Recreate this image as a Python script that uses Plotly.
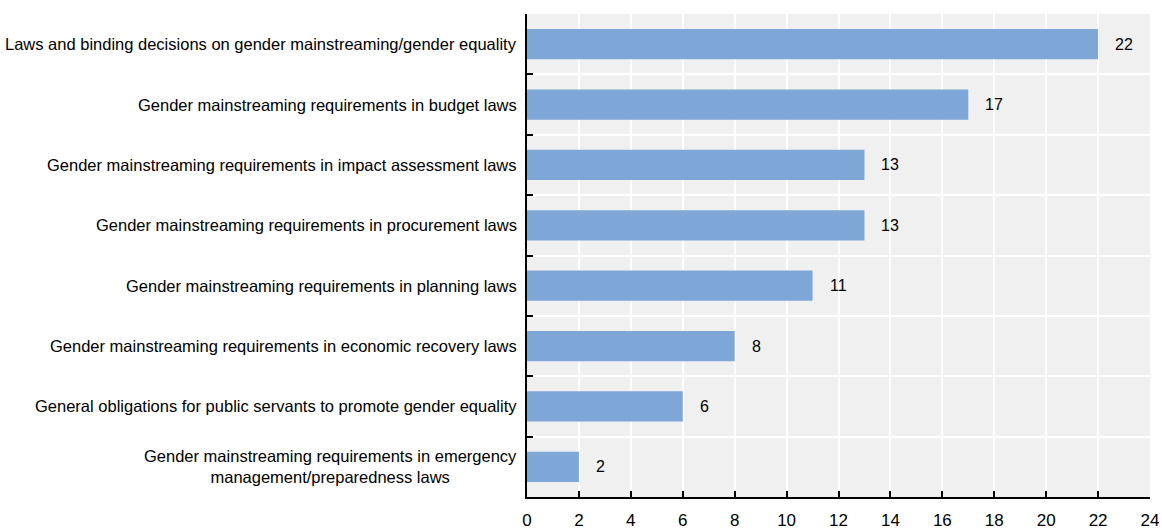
import plotly.graph_objects as go

categories = [
    "Laws and binding decisions on gender mainstreaming/gender equality",
    "Gender mainstreaming requirements in budget laws",
    "Gender mainstreaming requirements in impact assessment laws",
    "Gender mainstreaming requirements in procurement laws",
    "Gender mainstreaming requirements in planning laws",
    "Gender mainstreaming requirements in economic recovery laws",
    "General obligations for public servants to promote gender equality",
    "Gender mainstreaming requirements in emergency<br>management/preparedness laws",
]
values = [22, 17, 13, 13, 11, 8, 6, 2]
x_ticks = list(range(0, 25, 2))

FONT = "Liberation Sans, Arial, sans-serif"
BAR = "#7ea7d8"

fig = go.Figure()
fig.add_trace(go.Bar(
    x=values,
    y=categories,
    orientation="h",
    marker=dict(color=BAR, line=dict(width=0)),
    width=0.5,
    hoverinfo="x+y",
))

annotations = []
for c, v in zip(categories, values):
    annotations.append(dict(
        x=v, y=c, xref="x", yref="y", text=str(v), showarrow=False,
        xanchor="left", yanchor="middle", xshift=15,
        font=dict(family=FONT, size=16, color="#000000"),
    ))
    annotations.append(dict(
        x=0, y=c, xref="paper", yref="y", text=c, showarrow=False,
        xanchor="right", yanchor="middle", xshift=-8, align="center",
        font=dict(family=FONT, size=16.5, color="#000000"),
    ))

fig.update_layout(
    width=1162, height=530,
    margin=dict(l=527, r=12, t=14, b=33, autoexpand=False),
    paper_bgcolor="white",
    plot_bgcolor="#f0f0f0",
    showlegend=False,
    bargap=0.5,
    font=dict(family=FONT, size=16, color="#000000"),
    annotations=annotations,
    xaxis=dict(
        range=[0, 24],
        automargin=False,
        tickvals=x_ticks,
        ticktext=[str(t) for t in x_ticks],
        showgrid=True, gridcolor="white", gridwidth=2,
        zeroline=False,
        showline=True, linecolor="black", linewidth=2,
        ticks="inside", ticklen=6, tickwidth=2, tickcolor="black",
        ticklabelstandoff=7,
        tickfont=dict(family=FONT, size=17, color="#000000"),
        fixedrange=True,
    ),
    yaxis=dict(
        type="category",
        automargin=False,
        categoryorder="array",
        categoryarray=categories[::-1],
        tickson="boundaries",
        showgrid=True, gridcolor="white", gridwidth=2,
        showline=True, linecolor="black", linewidth=2,
        ticks="inside", ticklen=6, tickwidth=2, tickcolor="black",
        showticklabels=False,
        fixedrange=True,
    ),
)

fig.write_html(
    "out.html",
    config={"displayModeBar": False},
    post_script="document.body.style.margin='0';document.body.style.overflow='hidden';",
)
